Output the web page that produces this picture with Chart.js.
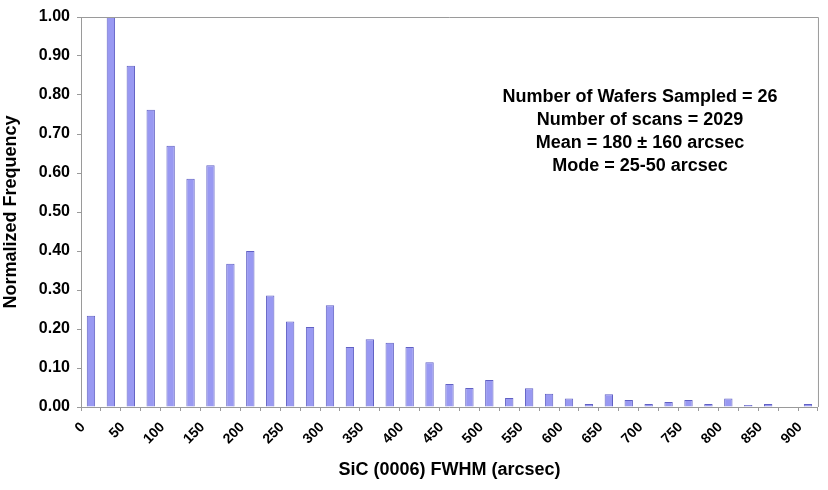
<!DOCTYPE html>
<html>
<head>
<meta charset="utf-8">
<script src="https://cdn.jsdelivr.net/npm/chart.js@4"></script>
<style>
  html, body { margin: 0; padding: 0; background: #fff; }
  #wrap { width: 828px; height: 490px; }
</style>
</head>
<body>
<div id="wrap"><canvas id="chart" width="828" height="490"></canvas></div>
<script>
// --- Data ---
const fwhmBins = [0, 25, 50, 75, 100, 125, 150, 175, 200, 225, 250, 275, 300, 325, 350, 375,
  400, 425, 450, 475, 500, 525, 550, 575, 600, 625, 650, 675, 700, 725, 750, 775, 800, 825,
  850, 875, 900];
const normFreq = [0.234, 1.00, 0.875, 0.762, 0.670, 0.585, 0.620, 0.367, 0.400, 0.286, 0.219,
  0.205, 0.261, 0.154, 0.174, 0.165, 0.154, 0.115, 0.059, 0.049, 0.069, 0.023, 0.048, 0.034,
  0.022, 0.008, 0.033, 0.018, 0.008, 0.013, 0.018, 0.008, 0.022, 0.005, 0.008, 0, 0.008];
const yTicks = [0, 0.1, 0.2, 0.3, 0.4, 0.5, 0.6, 0.7, 0.8, 0.9, 1.0];
const notes = [
  'Number of Wafers Sampled = 26',
  'Number of scans = 2029',
  'Mean = 180 \u00b1 160 arcsec',
  'Mode = 25-50 arcsec'
];

const FONT = "'Liberation Sans', Arial, sans-serif";
const AXIS_GREY = '#9a9a9a';

// plot border + stats text
const extras = {
  id: 'extras',
  afterDraw(chart) {
    const { ctx, chartArea: a } = chart;
    ctx.save();
    ctx.strokeStyle = AXIS_GREY;
    ctx.lineWidth = 1;
    ctx.beginPath();
    ctx.moveTo(a.left, a.top + 0.5);
    ctx.lineTo(a.right + 0.5, a.top + 0.5);
    ctx.lineTo(a.right + 0.5, a.bottom);
    ctx.stroke();
    ctx.fillStyle = '#000';
    ctx.font = 'bold 18px ' + FONT;
    ctx.textAlign = 'center';
    ctx.textBaseline = 'middle';
    notes.forEach((t, i) => ctx.fillText(t, 640, 97 + i * 23));
    ctx.restore();
  }
};

new Chart(document.getElementById('chart'), {
  type: 'bar',
  data: {
    labels: fwhmBins.map(String),
    datasets: [{
      data: normFreq,
      backgroundColor: '#9999f2',
      borderColor: '#6161c4',
      borderWidth: 1,
      categoryPercentage: 1,
      barPercentage: 0.42
    }]
  },
  options: {
    responsive: false,
    animation: false,
    layout: { padding: { top: 17, right: 9, left: 0, bottom: 0 } },
    plugins: { legend: { display: false }, tooltip: { enabled: false } },
    scales: {
      x: {
        afterFit: s => { s.height = 83; },
        grid: { drawOnChartArea: false, color: AXIS_GREY, tickLength: 4, offset: true },
        border: { color: AXIS_GREY },
        ticks: {
          autoSkip: false, maxRotation: 45, minRotation: 45, padding: 8, labelOffset: -8,
          color: '#000', font: { family: FONT, size: 14, weight: 'bold' },
          callback: (v, i) => i % 2 === 0 ? fwhmBins[i] : ''
        },
        title: {
          display: true, text: 'SiC (0006) FWHM (arcsec)', color: '#000',
          font: { family: FONT, size: 18, weight: 'bold' }, padding: { top: 0, bottom: 9 }
        }
      },
      y: {
        min: 0, max: 1,
        afterFit: s => { s.width = 81; },
        afterBuildTicks: s => { s.ticks = yTicks.map(v => ({ value: v })); },
        grid: { drawOnChartArea: false, color: AXIS_GREY, tickLength: 4 },
        border: { color: AXIS_GREY },
        ticks: {
          padding: 7, color: '#000', font: { family: FONT, size: 16, weight: 'bold' },
          callback: v => v.toFixed(2)
        },
        title: {
          display: true, text: 'Normalized Frequency', color: '#000',
          font: { family: FONT, size: 18, weight: 'bold' }, padding: { top: 0, bottom: 0 }
        }
      }
    }
  },
  plugins: [extras]
});
</script>
</body>
</html>
